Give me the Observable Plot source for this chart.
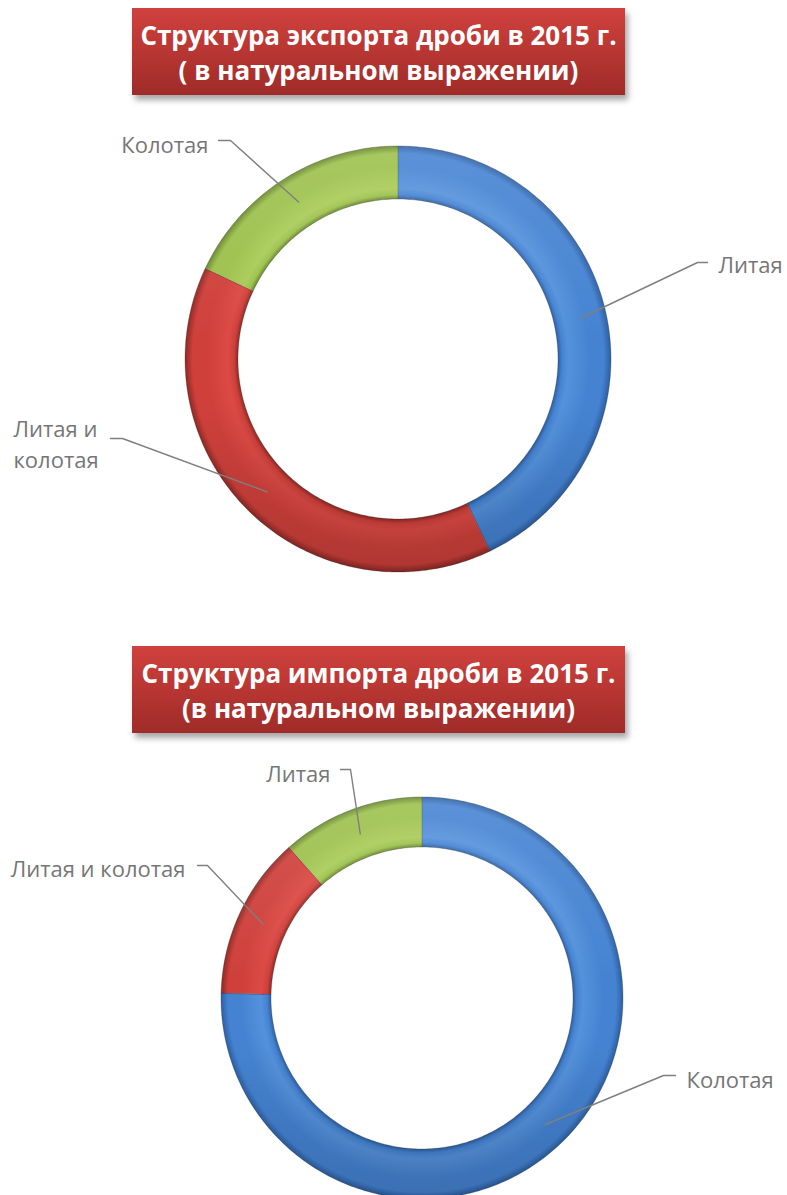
<!DOCTYPE html>
<html><head><meta charset="utf-8">
<script src="https://cdn.jsdelivr.net/npm/d3@7"></script>
<script src="https://cdn.jsdelivr.net/npm/@observablehq/plot@0.6"></script>
<style>
html,body{margin:0;padding:0;background:#fff;}
#page{position:relative;width:787px;height:1195px;overflow:hidden;font-family:"Open Sans",sans-serif;}
.title{position:absolute;left:132px;width:493px;height:87px;background:linear-gradient(#d0413d,#9f2b28);box-shadow:3px 5px 6px rgba(0,0,0,0.35);color:#fff;font-weight:700;font-size:26px;text-align:center;line-height:35px;box-sizing:border-box;padding-top:10px;white-space:nowrap;}
.chart{position:absolute;left:0;}
</style></head>
<body><div id="page">
<div class="title" style="top:8px"><div>Структура экспорта дроби в 2015 г.</div><div>( в натуральном выражении)</div></div>
<div class="title" style="top:646px"><div>Структура импорта дроби в 2015 г.</div><div>(в натуральном выражении)</div></div>
<div class="chart" id="c1" style="top:100px"></div>
<div class="chart" id="c2" style="top:740px"></div>
</div>
<script>
// ---- data ----
const exportCategories = ["Литая", "Литая и колотая", "Колотая"];
const exportValues = [42.9, 39.1, 18.0];
const importCategories = ["Колотая", "Литая и колотая", "Литая"];
const importValues = [75.4, 13.1, 11.5];

// ---- styles / layout ----
const sliceColors = [
  {light: "#5592dc", base: "#4583d2", dark: "#2d5f a3".replace(" ", "")},
  {light: "#dc4a45", base: "#cf403b", dark: "#8f2925"},
  {light: "#a9cc58", base: "#9cc04b", dark: "#66862a"}
];
const W = 787;
const layout1 = {id: "c1", H: 540, cx: 398, cy: 259, rOut: 213, rIn: 160};
const layout2 = {id: "c2", H: 455, cx: 422, cy: 258, rOut: 201, rIn: 151};
// label positions (offsets from donut centre)
const labels1 = [
  {cat: "Литая", text: "Литая", tx: 320, ty: -96, anchor: "start", sx: 309, bx: 299, ly: -97},
  {cat: "Литая и колотая", text: "Литая и\nколотая", tx: -385, ty: 83, anchor: "start", sx: -288, bx: -276, ly: 79},
  {cat: "Колотая", text: "Колотая", tx: -190, ty: -216, anchor: "end", sx: -180, bx: -168, ly: -219}
];
const labels2 = [
  {cat: "Колотая", text: "Колотая", tx: 264, ty: 80, anchor: "start", sx: 253, bx: 241, ly: 77},
  {cat: "Литая и колотая", text: "Литая и колотая", tx: -237, ty: -131, anchor: "end", sx: -225, bx: -215, ly: -133},
  {cat: "Литая", text: "Литая", tx: -92, ty: -226, anchor: "end", sx: -82, bx: -72, ly: -229}
];

// gradient defs in a hidden svg
const defsSvg = d3.select("body").append("svg").attr("width", 0).attr("height", 0)
  .style("position", "absolute").style("left", 0).style("top", 0);
const defs = defsSvg.append("defs");
function makeGradients(tag, L) {
  sliceColors.forEach((c, j) => {
    const g = defs.append("radialGradient").attr("id", `g${tag}${j}`)
      .attr("gradientUnits", "userSpaceOnUse").attr("cx", L.cx).attr("cy", L.cy).attr("r", L.rOut);
    const f = L.rIn / L.rOut;
    [[f, c.dark], [f + 0.02, c.base], [f + 0.05, c.light], [0.9, c.base], [0.965, c.base], [1, c.dark]]
      .forEach(([o, col]) => g.append("stop").attr("offset", o).attr("stop-color", col));
  });
  const s = defs.append("linearGradient").attr("id", `s${tag}`)
    .attr("gradientUnits", "userSpaceOnUse").attr("x1", 0).attr("x2", 0)
    .attr("y1", L.cy - L.rOut).attr("y2", L.cy + L.rOut);
  [[0, "#fff", 0.12], [0.45, "#fff", 0], [0.6, "#000", 0], [1, "#000", 0.15]]
    .forEach(([o, col, op]) => s.append("stop").attr("offset", o).attr("stop-color", col).attr("stop-opacity", op));
}

function ring(cats, vals, rIn, rOut) {
  const total = d3.sum(vals);
  let acc = 0;
  const rows = [], mids = new Map();
  cats.forEach((c, j) => {
    const a0 = acc / total * 2 * Math.PI; acc += vals[j];
    const a1 = acc / total * 2 * Math.PI;
    const n = Math.max(2, Math.ceil((a1 - a0) / (Math.PI / 180)));
    for (let k = 0; k <= n; k++) {
      const a = a0 + (a1 - a0) * k / n;
      rows.push({cat: c, idx: j,
        xi: rIn * Math.sin(a), yi: -rIn * Math.cos(a),
        xo: rOut * Math.sin(a), yo: -rOut * Math.cos(a)});
    }
    const am = (a0 + a1) / 2, rm = (rIn + rOut) / 2;
    mids.set(c, {x: rm * Math.sin(am), y: -rm * Math.cos(am)});
  });
  return {rows, mids};
}

function draw(tag, L, cats, vals, labels) {
  makeGradients(tag, L);
  const {rows, mids} = ring(cats, vals, L.rIn, L.rOut);
  const leaders = labels.flatMap(l => [
    {cat: l.cat, x: l.sx, y: l.ly}, {cat: l.cat, x: l.bx, y: l.ly},
    {cat: l.cat, x: mids.get(l.cat).x, y: mids.get(l.cat).y}
  ]);
  const textOpts = {x: "tx", y: "ty", text: "text", fill: "#767676", fontSize: 22,
    fontFamily: "Open Sans", lineHeight: 1.4};
  const plot = Plot.plot({
    width: W, height: L.H, margin: 0,
    x: {domain: [-L.cx, W - L.cx], range: [0, W], axis: null},
    y: {domain: [-L.cy, L.H - L.cy], range: [0, L.H], axis: null},
    color: {domain: cats, range: cats.map((c, j) => `url(#g${tag}${j})`)},
    marks: [
      Plot.area(rows, {x1: "xi", y1: "yi", x2: "xo", y2: "yo", z: "cat", fill: "cat",
        stroke: "rgba(40,40,40,0.35)", strokeWidth: 0.8}),
      Plot.area(rows, {x1: "xi", y1: "yi", x2: "xo", y2: "yo", z: "cat", fill: `url(#s${tag})`}),
      Plot.line(leaders, {x: "x", y: "y", z: "cat", stroke: "#7f7f7f", strokeWidth: 1.4}),
      Plot.text(labels, {...textOpts, textAnchor: "start", filter: d => d.anchor === "start"}),
      Plot.text(labels, {...textOpts, textAnchor: "end", filter: d => d.anchor === "end"})
    ]
  });
  document.getElementById(L.id).appendChild(plot);
}

draw("a", layout1, exportCategories, exportValues, labels1);
draw("b", layout2, importCategories, importValues, labels2);
</script>
</body></html>
